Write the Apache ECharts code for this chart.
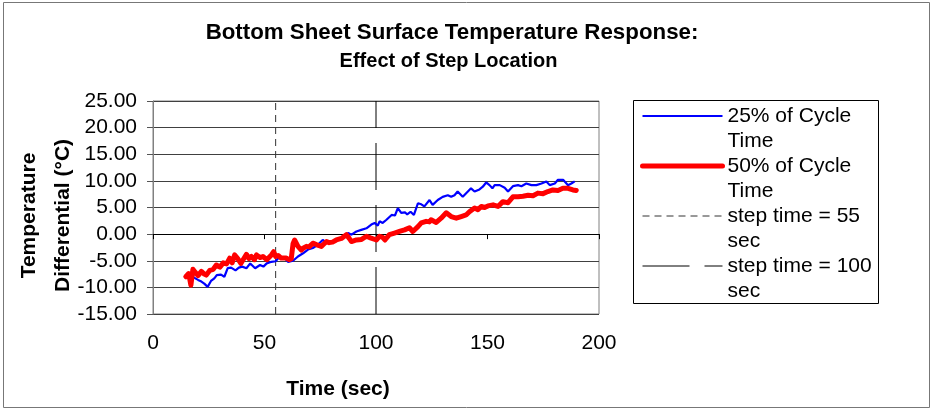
<!DOCTYPE html>
<html>
<head>
<meta charset="utf-8">
<script src="https://cdn.jsdelivr.net/npm/echarts@6/dist/echarts.min.js"></script>
<style>
  html, body { margin: 0; padding: 0; background: #fff; }
  #chart { width: 932px; height: 412px; }
</style>
</head>
<body>
<div id="chart"></div>
<script>
// 25% of cycle time (blue)
var blueTime = [15.0, 17.0, 19.0, 20.2, 21.7, 23.0, 24.5, 26.0, 27.5, 28.6, 30.5, 32.0, 33.5, 35.0, 37.0, 38.5, 40.0, 41.9, 43.6, 45.8,
    48.0, 49.5, 51.0, 53.1, 55.0, 56.8, 59.0, 60.5, 62.8, 65.0, 67.3, 69.5, 71.7, 73.9, 76.1, 77.8, 80.0, 82.2, 84.5, 87.5,
    89.0, 91.2, 93.4, 95.7, 97.9, 99.4, 100.8, 101.6, 103.0, 104.7, 107.0, 108.5, 109.8, 111.3, 113.0, 114.0, 115.5, 117.0, 118.8, 120.3,
    121.7, 124.0, 125.4, 127.7, 129.9, 132.2, 133.7, 135.2, 136.6, 138.9, 141.2, 142.6, 144.2, 146.4, 147.9, 149.4, 150.9, 152.2, 153.2, 155.5,
    157.7, 159.2, 161.4, 163.7, 165.2, 167.4, 169.7, 171.9, 174.2, 176.4, 177.9, 180.2, 181.6, 183.9, 186.1, 187.6, 189.1];
var blueTemp = [-8.0, -7.8, -8.3, -8.6, -8.9, -9.3, -9.9, -8.8, -8.3, -7.7, -7.6, -8.0, -6.4, -6.3, -6.8, -6.3, -6.1, -6.4, -5.5, -6.4,
    -5.8, -6.1, -5.5, -5.2, -5.1, -4.2, -4.5, -5.2, -5.0, -4.2, -3.6, -2.9, -2.6, -2.0, -1.1, -1.6, -1.4, -1.1, -0.8, 0.2,
    -0.1, 0.5, 0.8, 1.1, 1.8, 2.1, 1.6, 2.4, 2.1, 2.7, 3.6, 3.5, 4.9, 4.0, 4.1, 3.7, 4.2, 3.6, 5.8, 5.6,
    5.2, 6.4, 5.5, 6.4, 7.0, 7.3, 7.0, 7.3, 8.0, 7.0, 8.0, 8.6, 8.0, 8.4, 8.9, 9.7, 9.2, 8.6, 9.2, 9.2,
    8.7, 8.0, 9.0, 9.2, 9.0, 9.5, 9.2, 9.2, 9.5, 9.9, 9.2, 9.5, 10.2, 10.2, 9.2, 9.5, 9.9];

// 50% of cycle time (red)
var redTime = [14.7, 16.0, 17.0, 17.9, 19.0, 20.2, 21.7, 23.0, 23.9, 25.5, 27.0, 28.4, 30.0, 31.5, 33.0, 34.4, 35.5, 36.6, 38.0, 39.4,
    40.4, 41.9, 43.0, 44.1, 45.5, 46.4, 48.0, 49.3, 51.0, 53.1, 54.1, 55.0, 56.1, 57.5, 59.8, 61.0, 62.0, 62.8, 63.5, 65.0,
    66.5, 67.5, 68.8, 70.0, 71.7, 73.5, 75.5, 76.5, 77.8, 79.0, 80.5, 82.2, 84.5, 86.7, 88.0, 89.0, 91.2, 93.5, 95.7, 97.5,
    100.2, 101.6, 103.0, 104.0, 106.0, 108.3, 110.5, 112.8, 115.0, 116.5, 118.8, 120.3, 122.5, 124.0, 124.7, 127.0, 129.2, 131.5, 133.7, 136.0,
    138.2, 140.4, 141.9, 144.2, 145.7, 147.2, 148.7, 150.2, 152.5, 154.7, 156.9, 159.2, 161.4, 163.7, 165.9, 168.2, 170.4, 172.6, 174.9, 177.1,
    179.3, 181.6, 183.8, 186.1, 188.3, 189.8];
var redTemp = [-8.0, -7.4, -9.6, -6.6, -7.2, -7.8, -7.0, -7.5, -7.7, -6.8, -6.6, -5.8, -6.2, -5.4, -5.6, -4.5, -5.4, -3.9, -4.6, -5.5,
    -4.8, -3.8, -4.6, -4.2, -4.8, -3.9, -4.4, -4.2, -4.8, -3.9, -3.3, -4.2, -4.0, -4.5, -4.5, -4.8, -4.6, -1.8, -1.1, -2.3,
    -3.0, -2.6, -2.3, -2.4, -1.7, -2.0, -2.3, -1.9, -1.4, -1.6, -1.5, -1.1, -0.8, -0.1, -0.8, -1.4, -1.1, -1.0, -0.4, -0.7,
    -1.1, -0.4, -0.6, -1.1, -0.1, 0.2, 0.5, 0.8, 1.2, 0.5, 1.4, 2.1, 2.4, 2.3, 2.7, 2.2, 3.0, 4.0, 3.3, 3.0,
    3.3, 3.6, 4.2, 4.9, 4.6, 5.2, 5.0, 5.3, 5.5, 5.2, 6.1, 5.9, 7.0, 7.0, 7.1, 7.3, 7.2, 7.7, 7.6, 8.0,
    8.3, 8.2, 8.6, 8.6, 8.3, 8.2];

// step time markers
var stepTimes = [55, 100];
var yTicks = [-15, 25, 5];
var xTicks = [0, 200, 50];

var seriesNames = ['25% of Cycle Time', '50% of Cycle Time', 'step time = 55 sec', 'step time = 100 sec'];
var legendText = ['\n25% of Cycle\nTime', '\n50% of Cycle\nTime', '\nstep time = 55\nsec', '\nstep time = 100\nsec'];

function pairs(xs, ys) {
    var out = [];
    for (var i = 0; i < xs.length; i++) {
        out.push([xs[i], ys[i]]);
    }
    return out;
}

var myChart = echarts.init(document.getElementById('chart'));

var option = {
    animation: false,
    backgroundColor: '#fff',
    textStyle: { fontFamily: 'Liberation Sans, Arial, sans-serif' },
    title: [{
        text: 'Bottom Sheet Surface Temperature Response:',
        left: 447,
        top: 17,
        textAlign: 'center',
        textStyle: { fontSize: 22.3, fontWeight: 'bold', color: '#000' }
    }, {
        text: 'Effect of Step Location',
        left: 443.5,
        top: 46.5,
        textAlign: 'center',
        textStyle: { fontSize: 20, fontWeight: 'bold', color: '#000' }
    }],
    grid: {
        left: 153,
        top: 101,
        width: 446,
        height: 213,
        show: true,
        borderColor: '#808080',
        borderWidth: 1
    },
    legend: {
        data: seriesNames,
        orient: 'vertical',
        left: 640,
        top: 78.5,
        padding: 0,
        itemGap: -25,
        itemWidth: 80,
        itemHeight: 14,
        // hide the symbol dot, keep only the line at series width
        itemStyle: { opacity: 0, borderWidth: 0 },
        lineStyle: { width: 'inherit' },
        formatter: function(name) {
            return legendText[seriesNames.indexOf(name)];
        },
        textStyle: { fontSize: 21, lineHeight: 25, color: '#000' }
    },
    xAxis: {
        type: 'value',
        min: xTicks[0],
        max: xTicks[1],
        interval: xTicks[2],
        name: 'Time (sec)',
        nameLocation: 'middle',
        nameGap: 65,
        nameMoveOverlap: false,
        nameTextStyle: { fontSize: 21, fontWeight: 'bold', color: '#000', padding: [0, 76, 0, 0] },
        axisLine: { lineStyle: { color: '#000', width: 1 } },
        axisTick: { length: 5, lineStyle: { color: '#000' } },
        axisLabel: { fontSize: 21, color: '#000', margin: 19 },
        splitLine: { show: false }
    },
    yAxis: {
        type: 'value',
        min: yTicks[0],
        max: yTicks[1],
        interval: yTicks[2],
        name: 'Temperature\nDifferential (°C)',
        nameLocation: 'middle',
        nameRotate: 90,
        nameGap: 73,
        nameMoveOverlap: false,
        nameTextStyle: { fontSize: 21, fontWeight: 'bold', color: '#000', lineHeight: 34, padding: [0, 16, 0, 0] },
        axisLine: { show: true, lineStyle: { color: '#808080', width: 1 } },
        axisTick: { show: true, length: 6, lineStyle: { color: '#555' } },
        axisLabel: {
            fontSize: 21,
            color: '#000',
            margin: 16,
            formatter: function(v) { return v.toFixed(2); }
        },
        splitLine: { lineStyle: { color: '#404040', width: 1 } }
    },
    series: [{
        name: seriesNames[0],
        type: 'line',
        symbol: 'none',
        z: 3,
        lineStyle: { color: '#0000ff', width: 2.2 },
        itemStyle: { color: '#0000ff' },
        data: pairs(blueTime, blueTemp)
    }, {
        name: seriesNames[1],
        type: 'line',
        symbol: 'none',
        z: 4,
        lineStyle: { color: '#ff0000', width: 5, cap: 'round', join: 'round' },
        itemStyle: { color: '#ff0000' },
        data: pairs(redTime, redTemp)
    }, {
        name: seriesNames[2],
        type: 'line',
        symbol: 'none',
        z: 2,
        lineStyle: { color: '#333', width: 1, type: [7, 5] },
        itemStyle: { color: '#333' },
        data: [[stepTimes[0], yTicks[0]], [stepTimes[0], yTicks[1]]]
    }, {
        name: seriesNames[3],
        type: 'line',
        symbol: 'none',
        z: 2,
        lineStyle: { color: '#000', width: 1, type: [47, 15] },
        itemStyle: { color: '#000' },
        data: [[stepTimes[1], yTicks[0]], [stepTimes[1], yTicks[1]]]
    }],
    graphic: [{
        // outer frame
        type: 'rect',
        shape: { x: 3.5, y: 2.5, width: 926, height: 405 },
        style: { fill: 'none', stroke: '#777', lineWidth: 1 },
        silent: true
    }, {
        // legend box
        type: 'rect',
        shape: { x: 633.5, y: 100.5, width: 245, height: 203 },
        style: { fill: 'none', stroke: '#000', lineWidth: 1 },
        silent: true
    }]
};

myChart.setOption(option);
</script>
</body>
</html>
